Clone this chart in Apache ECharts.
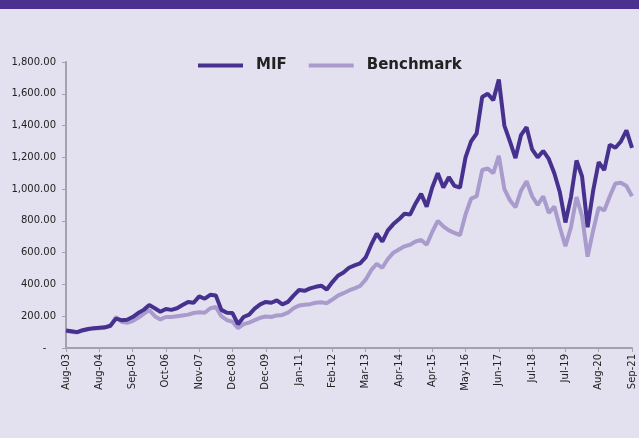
<!DOCTYPE html>
<html>
<head>
<meta charset="utf-8">
<script src="https://cdn.jsdelivr.net/npm/echarts@6/dist/echarts.min.js"></script>
<style>
  html, body { margin: 0; padding: 0; background: #e3e0ef; }
  #main { width: 639px; height: 438px; }
</style>
</head>
<body>
<div id="main"></div>
<script>
// tick labels on the x axis, one every 6 points
var tickLabels = ['Aug-03','Aug-04','Sep-05','Oct-06','Nov-07','Dec-08','Dec-09','Jan-11','Feb-12',
  'Mar-13','Apr-14','Apr-15','May-16','Jun-17','Jul-18','Jul-19','Aug-20','Sep-21'];
var step = 6;

var mif = [110,105,100,112,120,125,128,130,140,185,175,178,195,220,240,270,250,228,245,240,
  250,270,290,285,325,310,335,330,240,222,220,150,195,210,248,275,290,285,300,275,
  290,330,365,360,375,385,392,368,415,455,475,505,520,533,570,650,720,670,740,780,
  810,845,840,910,970,890,1010,1100,1010,1075,1020,1010,1200,1300,1350,1580,1600,1560,1690,1400,
  1300,1195,1340,1390,1250,1200,1240,1190,1100,980,790,950,1180,1080,760,990,1170,1120,1280,1260,
  1300,1370,1260];

var bench = [108,100,98,110,118,122,125,128,140,195,165,158,170,190,215,238,200,180,195,195,
  200,205,210,220,225,222,250,258,200,175,165,125,150,160,175,190,198,195,205,208,
  222,250,268,272,276,285,288,282,305,330,345,362,375,390,430,490,530,505,560,600,
  620,640,650,670,680,650,730,800,765,740,725,710,840,940,955,1120,1130,1100,1210,1000,
  930,885,990,1050,955,900,955,850,890,760,640,760,950,830,575,740,885,865,955,1035,
  1040,1020,955];

function pairs(arr) {
  return arr.map(function (v, i) { return [i, v]; });
}

var myChart = echarts.init(document.getElementById('main'));
myChart.setOption({
  backgroundColor: '#e3e0ef',
  animation: false,
  graphic: [{
    type: 'rect',
    shape: { x: 0, y: 0, width: 639, height: 9 },
    style: { fill: '#4a3191' }
  }],
  legend: {
    top: 53,
    left: 193,
    icon: 'rect',
    itemWidth: 45,
    itemHeight: 4,
    itemGap: 22,
    textStyle: { fontFamily: 'DejaVu Sans', fontSize: 15, fontWeight: 'bold', color: '#222', padding: [0, 0, 0, 8] },
    data: ['MIF', 'Benchmark']
  },
  grid: { left: 66, right: 7, top: 62, bottom: 90 },
  xAxis: {
    type: 'value',
    min: 0,
    max: (tickLabels.length - 1) * step,
    interval: step,
    splitLine: { show: false },
    axisLine: { lineStyle: { color: '#a3a1ad', width: 2 } },
    axisTick: { show: true, length: 4, lineStyle: { color: '#a3a1ad' } },
    axisLabel: {
      rotate: 90,
      margin: 6,
      fontFamily: 'DejaVu Sans',
      fontSize: 10,
      color: '#222',
      formatter: function (v) { return tickLabels[Math.round(v / step)] || ''; }
    }
  },
  yAxis: {
    type: 'value',
    min: 0,
    max: 1800,
    interval: 200,
    splitLine: { show: false },
    axisLine: { show: true, lineStyle: { color: '#a3a1ad', width: 2 } },
    axisTick: { show: true, length: 4, lineStyle: { color: '#a3a1ad' } },
    axisLabel: {
      margin: 10,
      fontFamily: 'DejaVu Sans',
      fontSize: 10,
      color: '#222',
      formatter: function (v) {
        if (v === 0) return '-   ';
        return v.toLocaleString('en-US', { minimumFractionDigits: 2, maximumFractionDigits: 2 });
      }
    }
  },
  series: [{
    name: 'Benchmark',
    type: 'line',
    data: pairs(bench),
    symbol: 'none',
    color: '#a99ccd',
    lineStyle: { width: 4, color: '#a99ccd' },
    z: 2
  }, {
    name: 'MIF',
    type: 'line',
    data: pairs(mif),
    symbol: 'none',
    color: '#47318f',
    lineStyle: { width: 4, color: '#47318f' },
    z: 3
  }]
});
</script>
</body>
</html>
